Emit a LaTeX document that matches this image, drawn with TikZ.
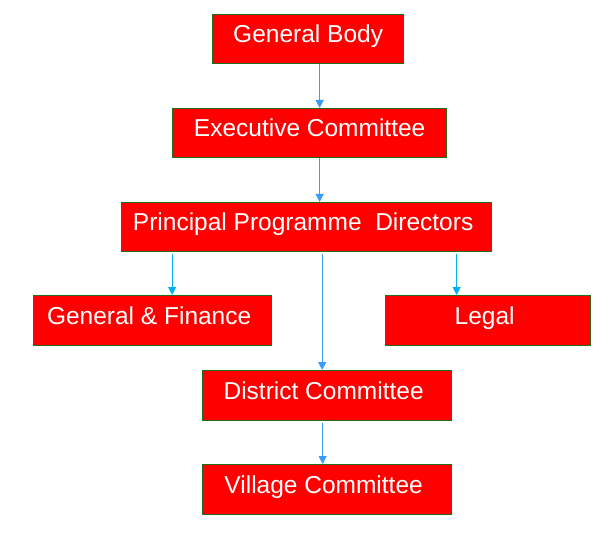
\documentclass[tikz,border=0pt]{standalone}
\usepackage{fontspec}
\setmainfont{Liberation Sans}
\usetikzlibrary{arrows.meta}
\definecolor{boxred}{RGB}{255,0,0}
\definecolor{boxgreen}{RGB}{30,110,30}
\definecolor{arrblue}{RGB}{60,155,250}
\definecolor{arrcyan}{RGB}{0,176,240}
\tikzset{
  orgbox/.style={draw=boxgreen, fill=boxred, line width=1.3pt, inner sep=0pt,
    text=white, font=\fontsize{24.5}{29}\selectfont,
    text height=28pt, text depth=21pt, anchor=north west},
  arr/.style={draw=arrblue, line width=0.9pt, -{Triangle[length=8pt,width=8pt]}},
  arrc/.style={draw=arrcyan, line width=0.9pt, -{Triangle[length=8pt,width=8pt]}}
}
\newcommand{\padr}{\rule{7pt}{0pt}}
\begin{document}
\begin{tikzpicture}[x=1pt,y=1pt]
\useasboundingbox (0,0) rectangle (616,-548);
\node[orgbox, minimum width=191pt, minimum height=49pt] (gb) at (212,-14) {General Body};
\node[orgbox, minimum width=274pt, minimum height=49pt] (ec) at (172,-108) {Executive Committee};
\node[orgbox, minimum width=370pt, minimum height=48pt] (ppd) at (121,-202) {Principal Programme\ \ Directors\padr};
\node[orgbox, minimum width=238pt, minimum height=50pt] (gf) at (33,-295) {General \& Finance\padr};
\node[orgbox, minimum width=205pt, minimum height=50pt] (lg) at (385,-295) {Legal\padr};
\node[orgbox, minimum width=249pt, minimum height=50pt] (dc) at (202,-370) {District Committee\padr};
\node[orgbox, minimum width=249pt, minimum height=50pt] (vc) at (202,-464) {Village Committee\padr};
\draw[arr] ([xshift=11.5pt]gb.south) -- ([xshift=11.5pt]gb.south |- ec.north);
\draw[arr] ([xshift=10pt]ec.south) -- ([xshift=10pt]ec.south |- ppd.north);
\draw[arrc] ([xshift=19.5pt,yshift=-2pt]gf.north |- ppd.south) -- ([xshift=19.5pt]gf.north);
\draw[arrc] ([xshift=-31.5pt,yshift=-2pt]lg.north |- ppd.south) -- ([xshift=-31.5pt]lg.north);
\draw[arr] ([xshift=-5pt,yshift=-2pt]dc.north |- ppd.south) -- ([xshift=-5pt]dc.north);
\draw[arr] ([xshift=-4.5pt,yshift=-2pt]dc.south) -- ([xshift=-4.5pt]vc.north);
\end{tikzpicture}
\end{document}
